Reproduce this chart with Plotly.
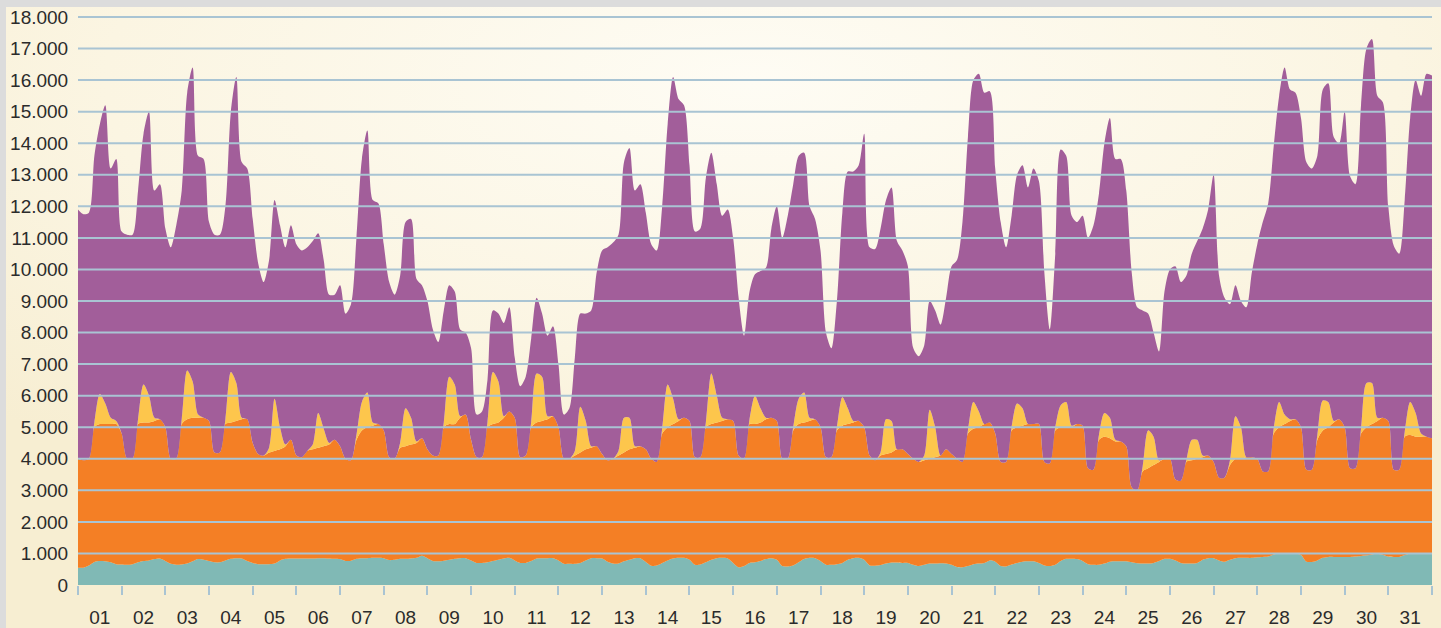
import base64
import pandas as pd
import plotly.graph_objects as go

# Tageswerte in 3-Stunden-Schritten (0, 3, 6, ... 21 Uhr), MW, gestapelt abgelesen
# jede Zeile = ein Tag, letzter Wert = Ende des Monats
teal_top = [
    [550, 550, 620, 730, 760, 750, 720, 660],
    [650, 640, 660, 720, 760, 780, 820, 840],
    [760, 670, 640, 650, 680, 750, 820, 800],
    [760, 720, 720, 780, 830, 850, 840, 760],
    [700, 660, 660, 660, 680, 780, 830, 840],
    [840, 840, 840, 840, 850, 850, 840, 830],
    [820, 760, 770, 830, 850, 850, 860, 860],
    [850, 790, 800, 830, 830, 840, 860, 930],
    [850, 760, 750, 770, 800, 830, 850, 850],
    [780, 700, 700, 720, 760, 800, 840, 860],
    [780, 700, 700, 760, 840, 850, 850, 850],
    [780, 670, 670, 670, 700, 780, 850, 850],
    [840, 740, 680, 680, 750, 800, 850, 850],
    [730, 610, 620, 700, 780, 840, 860, 860],
    [800, 640, 650, 720, 800, 850, 860, 840],
    [700, 560, 600, 700, 720, 760, 820, 850],
    [800, 600, 590, 620, 720, 820, 860, 850],
    [760, 640, 640, 660, 700, 800, 850, 860],
    [800, 620, 610, 630, 680, 710, 710, 700],
    [700, 640, 600, 640, 680, 680, 690, 680],
    [640, 570, 560, 600, 660, 680, 700, 780],
    [740, 600, 590, 650, 700, 740, 750, 750],
    [700, 620, 600, 640, 760, 830, 830, 820],
    [760, 660, 640, 640, 680, 740, 750, 750],
    [750, 720, 690, 680, 680, 700, 760, 830],
    [830, 780, 700, 680, 680, 700, 800, 850],
    [850, 780, 740, 800, 850, 860, 860, 860],
    [880, 890, 900, 970, 1000, 1000, 1000, 1000],
    [950, 740, 730, 780, 860, 890, 890, 890],
    [890, 890, 900, 920, 940, 970, 980, 960],
    [900, 890, 890, 950, 1000, 1000, 1000, 1000],
]
teal_end = 1000

orange_top = [
    [4000, 3950, 4000, 5000, 5100, 5100, 5100, 5100],
    [4800, 4000, 4000, 5100, 5150, 5150, 5200, 5250],
    [5000, 4000, 4000, 5100, 5250, 5300, 5300, 5300],
    [5200, 4200, 4200, 5100, 5150, 5200, 5250, 5250],
    [4500, 4150, 4100, 4200, 4250, 4300, 4400, 4600],
    [4100, 4050, 4250, 4300, 4350, 4400, 4450, 4600],
    [4400, 4000, 3950, 4600, 4900, 5000, 5050, 5100],
    [4900, 4050, 4000, 4350, 4400, 4450, 4500, 4650],
    [4300, 4100, 4100, 5000, 5100, 5100, 5300, 5400],
    [4600, 4050, 4050, 5000, 5100, 5150, 5300, 5500],
    [5300, 4050, 4100, 5000, 5150, 5200, 5250, 5350],
    [5000, 4000, 4000, 4100, 4200, 4300, 4350, 4400],
    [4150, 3950, 4000, 4100, 4200, 4300, 4350, 4400],
    [4300, 4000, 3900, 4800, 5000, 5100, 5200, 5300],
    [5200, 4050, 4050, 5000, 5100, 5150, 5200, 5250],
    [5200, 4100, 4000, 5100, 5100, 5150, 5250, 5300],
    [5200, 4000, 4000, 4900, 5100, 5150, 5200, 5250],
    [5000, 4050, 4050, 4900, 5050, 5100, 5150, 5200],
    [5000, 4100, 3950, 4100, 4150, 4200, 4300, 4300],
    [4150, 4000, 3900, 3950, 4000, 4050, 4100, 4300],
    [4150, 4000, 3900, 4800, 4950, 5000, 5100, 5150],
    [4800, 3900, 3900, 4900, 5000, 5050, 5100, 5100],
    [5100, 3900, 3850, 4900, 5000, 5000, 5000, 5100],
    [5050, 3700, 3650, 4600, 4700, 4650, 4550, 4550],
    [4400, 3100, 3000, 3600, 3700, 3800, 3900, 4000],
    [4000, 3350, 3300, 3900, 3950, 4000, 4050, 4100],
    [3900, 3400, 3400, 3800, 4000, 4000, 4050, 4050],
    [4000, 3600, 3600, 4800, 5000, 5100, 5200, 5250],
    [5000, 3650, 3650, 4600, 4900, 5000, 5150, 5250],
    [5000, 3700, 3700, 4800, 5000, 5100, 5200, 5300],
    [5200, 3650, 3650, 4700, 4750, 4700, 4700, 4700],
]
orange_end = 4650

yellow_top = [
    [4000, 3950, 4000, 5150, 6050, 5750, 5300, 5200],
    [4800, 4000, 4000, 5250, 6350, 6000, 5300, 5250],
    [5000, 4000, 4000, 5250, 6800, 6450, 5400, 5300],
    [5200, 4200, 4200, 5250, 6750, 6400, 5300, 5250],
    [4500, 4150, 4100, 4350, 5900, 5000, 4450, 4600],
    [4100, 4050, 4250, 4450, 5450, 4950, 4500, 4600],
    [4400, 4000, 3950, 4750, 5800, 6100, 5150, 5100],
    [4900, 4050, 4000, 4500, 5600, 5300, 4550, 4650],
    [4300, 4100, 4100, 5150, 6600, 6350, 5350, 5400],
    [4600, 4050, 4050, 5150, 6750, 6450, 5350, 5500],
    [5300, 4050, 4100, 5150, 6700, 6600, 5350, 5350],
    [5000, 4000, 4000, 4250, 5650, 5200, 4400, 4400],
    [4150, 3950, 4000, 4250, 5300, 5300, 4400, 4400],
    [4300, 4000, 3900, 4950, 6350, 5900, 5250, 5300],
    [5200, 4050, 4050, 5150, 6700, 6000, 5300, 5250],
    [5200, 4100, 4000, 5250, 6000, 5600, 5300, 5300],
    [5200, 4000, 4000, 5000, 5900, 6100, 5300, 5250],
    [5000, 4050, 4050, 5000, 5950, 5600, 5200, 5200],
    [5000, 4100, 3950, 4200, 5250, 5200, 4300, 4300],
    [4150, 4000, 3900, 4100, 5550, 5000, 4100, 4300],
    [4150, 4000, 3900, 4900, 5800, 5500, 5100, 5150],
    [4800, 3900, 3900, 5000, 5750, 5600, 5100, 5100],
    [5100, 3900, 3850, 5000, 5700, 5800, 5050, 5100],
    [5050, 3700, 3650, 4750, 5450, 5300, 4600, 4550],
    [4400, 3100, 3000, 3750, 4900, 4700, 3950, 4000],
    [4000, 3350, 3300, 3950, 4600, 4600, 4100, 4100],
    [3900, 3400, 3400, 3950, 5350, 5000, 4050, 4050],
    [4000, 3600, 3600, 4950, 5800, 5400, 5250, 5250],
    [5000, 3650, 3650, 4750, 5850, 5800, 5200, 5250],
    [5000, 3700, 3700, 4950, 6400, 6400, 5300, 5300],
    [5200, 3650, 3650, 4850, 5800, 5450, 4800, 4700],
]
yellow_end = 4650

purple_top = [
    [11900, 11750, 11800, 13600, 14600, 15200, 13200, 13500],
    [11200, 11100, 11100, 12500, 14300, 15000, 12500, 12700],
    [11300, 10700, 11400, 12500, 15600, 16400, 13600, 13500],
    [11500, 11100, 11100, 12000, 15000, 16100, 13400, 13200],
    [11600, 10200, 9600, 10300, 12200, 11400, 10700, 11400],
    [10800, 10600, 10700, 10900, 11150, 10300, 9200, 9200],
    [9500, 8600, 8900, 11000, 13500, 14400, 12200, 12100],
    [10800, 9600, 9200, 9800, 11500, 11600, 9700, 9500],
    [9000, 8100, 7700, 8700, 9500, 9300, 8100, 8000],
    [7500, 5400, 5500, 6500, 8700, 8600, 8300, 8800],
    [7200, 6300, 6600, 7800, 9100, 8600, 7900, 8200],
    [7000, 5400, 5600, 7200, 8600, 8600, 8700, 9900],
    [10600, 10700, 10850, 11100, 13400, 13850, 12500, 12700],
    [11800, 10800, 10600, 12000, 14600, 16100, 15400, 15200],
    [13300, 11200, 11300, 12900, 13700, 12700, 11700, 11900],
    [11000, 9100, 7900, 9300, 9850, 9950, 10050, 11300],
    [12000, 11000, 11700, 12700, 13600, 13700, 12000, 11600],
    [10600, 8000, 7500, 9000, 11800, 13100, 13100, 13300],
    [14300, 10700, 10650, 11300, 12200, 12600, 10900, 10600],
    [10100, 7500, 7250, 7600, 9000, 8700, 8250, 9100],
    [10100, 10300, 11500, 14200, 16000, 16200, 15600, 15650],
    [13200, 11500, 10700, 11700, 13000, 13300, 12600, 13200],
    [12800, 9900, 8100, 10500, 13800, 13600, 11700, 11500],
    [11700, 11000, 11400, 12400, 14000, 14800, 13500, 13500],
    [12500, 9900, 8800, 8700, 8600, 8000, 7400, 9300],
    [10000, 10100, 9600, 9800, 10500, 10900, 11300, 11900],
    [13000, 9800, 9100, 8900, 9500, 9000, 8800, 9900],
    [10800, 11500, 12100, 13900, 15500, 16400, 15700, 15600],
    [14800, 13400, 13200, 13600, 15700, 15900, 14200, 14000],
    [15000, 12950, 12700, 15200, 17000, 17300, 15500, 15300],
    [12000, 10750, 10500, 12200, 14800, 16000, 15500, 16200],
]
purple_end = 16150

def flat(days, end):
    return [v for day in days for v in day] + [end]

zeit = pd.date_range("2011-12-01", periods=31 * 8 + 1, freq="3h")

fig = go.Figure()
layers = [
    (teal_top, teal_end, "#80B9B5", "tozeroy"),
    (orange_top, orange_end, "#F47F25", "tonexty"),
    (yellow_top, yellow_end, "#FDC64C", "tonexty"),
    (purple_top, purple_end, "#A25E9A", "tonexty"),
]
for days, end, farbe, fill in layers:
    fig.add_trace(go.Scatter(
        x=zeit, y=flat(days, end), mode="lines",
        line=dict(width=0, shape="spline", smoothing=0.8, color=farbe),
        fill=fill, fillcolor=farbe, hoverinfo="skip", showlegend=False))

# Hintergrundverlauf als SVG
svg = ("<svg xmlns='http://www.w3.org/2000/svg' width='1435' height='621' "
       "viewBox='0 0 1435 621' preserveAspectRatio='none'><defs>"
       "<radialGradient id='g' cx='0.52' cy='0.12' r='0.75'>"
       "<stop offset='0' stop-color='#FEFCF4'/><stop offset='0.6' stop-color='#FBF5E2'/>"
       "<stop offset='1' stop-color='#F7EED2'/></radialGradient></defs>"
       "<rect width='1435' height='621' fill='url(#g)'/></svg>")
bg = "data:image/svg+xml;base64," + base64.b64encode(svg.encode()).decode()

# Gitterlinien über den Flächen; oberste Linie über paper, damit sie nicht halb abgeschnitten wird
gitter = [dict(type="line", xref="paper", x0=0, x1=1, yref="y", y0=v, y1=v,
               line=dict(color="#A9C4D3", width=2), layer="above")
          for v in range(1000, 18000, 1000)]
gitter.append(dict(type="line", xref="paper", x0=0, x1=1, yref="paper", y0=1, y1=1,
                   line=dict(color="#A9C4D3", width=2), layer="above"))

fig.update_layout(
    width=1441, height=628,
    margin=dict(l=78, r=9, t=17, b=43, pad=0),
    paper_bgcolor="#DCDCDC", plot_bgcolor="rgba(0,0,0,0)",
    separators=",.",
    font=dict(family="Liberation Sans, Arial, sans-serif", size=19, color="#2B2B2B"),
    images=[dict(source=bg, xref="paper", yref="paper", x=-72 / 1354, y=578 / 568,
                 sizex=1435 / 1354, sizey=621 / 568, xanchor="left", yanchor="top",
                 sizing="stretch", layer="below")],
    shapes=gitter,
    xaxis=dict(type="date", range=["2011-12-01", "2012-01-01"], tick0="2011-12-01",
               dtick=86400000, tickformat="%d", ticklabelmode="period",
               ticks="outside", ticklen=9, tickwidth=2, tickcolor="#A9C4D3",
               ticklabelstandoff=6, automargin=False,
               showgrid=False, zeroline=False, showline=False),
    yaxis=dict(range=[0, 18000], dtick=1000, tickformat=",d",
               ticks="outside", ticklen=5, tickcolor="rgba(0,0,0,0)", automargin=False,
               showgrid=False, zeroline=False, showline=False),
)

fig.write_html("out.html", config={"displayModeBar": False},
               post_script="document.body.style.margin='0';"
                           "document.body.style.overflow='hidden';")
